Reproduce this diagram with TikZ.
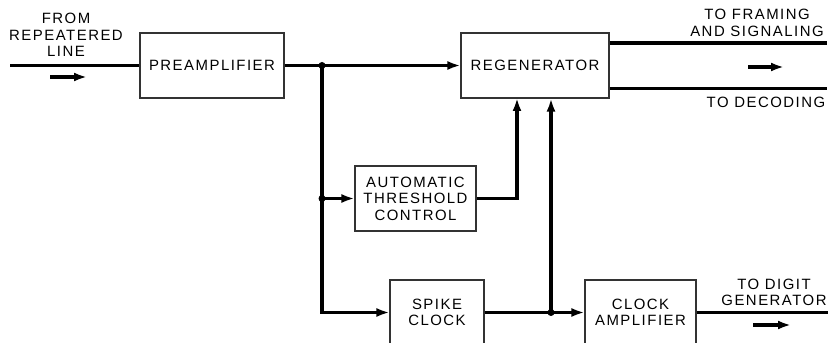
\documentclass[tikz,border=0pt]{standalone}
\usepackage{fontspec}
\setsansfont{Liberation Sans}[LetterSpace=10]
\usetikzlibrary{arrows.meta}

\tikzset{
  block/.style={draw=black!80, line width=0.6pt, inner sep=0pt, align=center},
  wire/.style={line width=1.9pt},
  label/.style={inner sep=0pt, align=center}
}

\begin{document}
\begin{tikzpicture}[x=0.2mm, y=-0.2mm, font=\sffamily\fontsize{8.5}{9.4}\selectfont,
    >={Latex[length=2.6mm,width=1.8mm]}]
    \useasboundingbox (0,0) rectangle (830,343);

    % blocks
    \node[block, minimum width=28.8mm, minimum height=13mm] (pre) at (212,65.5) {PREAMPLIFIER};
    \node[block, minimum width=29.6mm, minimum height=13mm] (regen) at (535,65.5) {REGENERATOR};
    \node[block, minimum width=24.2mm, minimum height=13mm] (atc) at (415.5,198.5) {AUTOMATIC\\THRESHOLD\\CONTROL};
    \node[block, minimum width=18.8mm, minimum height=13mm] (spike) at (437,312.5) {SPIKE\\CLOCK};
    \node[block, minimum width=22.2mm, minimum height=13mm] (clk) at (640.5,312.5) {CLOCK\\AMPLIFIER};

    % labels
    \node[label] (from) at (66,35) {FROM\\REPEATERED\\LINE};
    \node[label] (fram) at (757,23) {TO FRAMING\\AND SIGNALING};
    \node[label] (dec) at (766,102) {TO DECODING};
    \node[label] (dig) at (774,292.5) {TO DIGIT\\GENERATOR};

    % junctions and free ends
    \coordinate (in) at (10,65.5);
    \coordinate (j1) at (322,65.5);
    \coordinate (j2) at (322,198.5);
    \coordinate (j3) at (551,312.5);
    \coordinate (atcin) at (517,98);
    \coordinate (fr) at (827,43);
    \coordinate (de) at (827,88.5);
    \coordinate (dg) at (828,312.5);

    % connectors
    \draw[wire] (in) -- (pre.west);
    \draw[wire, ->] (pre.east) -- (regen.west);
    \draw[wire, ->] (j1) |- (spike.west);
    \draw[wire, ->] (j2) -- (atc.west);
    \draw[wire, ->] (atc.east) -| (atcin);
    \draw[wire, ->] (spike.east) -- (clk.west);
    \draw[wire, ->] (j3) -- (j3 |- regen.south);
    \draw[wire] (fr -| regen.east) -- (fr);
    \draw[wire] (de -| regen.east) -- (de);
    \draw[wire] (clk.east) -- (dg);
    \foreach \j in {j1,j2,j3}
      \fill (\j) circle (3.5);

    % direction marks
    \draw[wire, ->] (50,77) -- (87,77);
    \draw[wire, ->] (748,67) -- (784,67);
    \draw[wire, ->] (753,325) -- (791,325);
  \end{tikzpicture}
\end{document}
